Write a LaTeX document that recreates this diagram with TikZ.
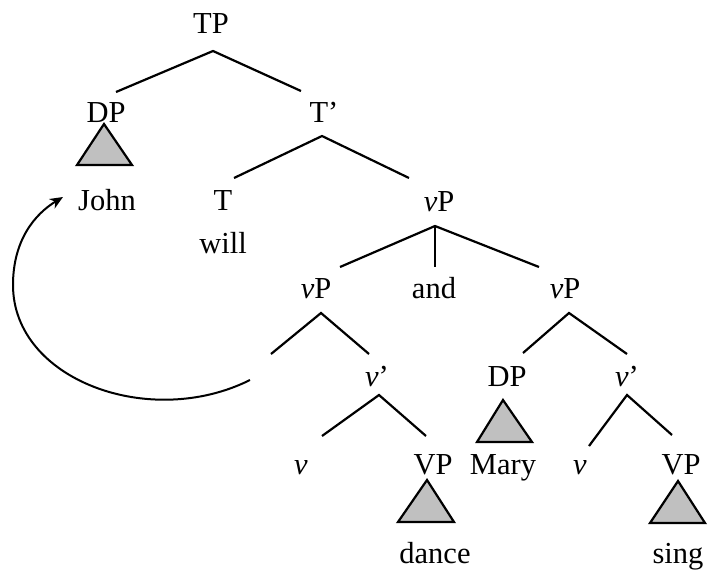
\documentclass[tikz,border=0pt]{standalone}
\usepackage{fontspec}
\setmainfont{Liberation Serif}
\usetikzlibrary{arrows.meta}
\definecolor{trigray}{RGB}{192,192,192}
\tikzset{
  lab/.style={anchor=base, inner sep=0pt, font=\fontsize{30.5}{36}\selectfont},
  branch/.style={line width=2.2pt, line cap=butt},
  roof/.style={line width=2.2pt, fill=trigray, line join=miter},
  move/.style={line width=2pt, -{Stealth[length=13pt,width=11pt,inset=4pt]}}
}
\begin{document}
\begin{tikzpicture}[x=1pt,y=-1pt]
\useasboundingbox (0,0) rectangle (709,570);
% labels
\node[lab] (TP)   at (211,33)  {TP};
\node[lab] (DPa)  at (106,122) {DP};
\node[lab] (Tbar) at (324,122) {T’};
\node[lab] (John) at (107,210) {John};
\node[lab] (T)    at (223,210) {T};
\node[lab] (vP)   at (439,211) {\textit{v}P};
\node[lab] (will) at (223,253) {will};
\node[lab] (vPl)  at (316,298) {\textit{v}P};
\node[lab] (and)  at (434,298) {and};
\node[lab] (vPr)  at (565,298) {\textit{v}P};
\node[lab] (vbl)  at (377,386) {\textit{v}’};
\node[lab] (DPb)  at (507,386) {DP};
\node[lab] (vbr)  at (627,386) {\textit{v}’};
\node[lab] (vl)   at (301,474) {\textit{v}};
\node[lab] (VPl)  at (433,474) {VP};
\node[lab] (Mary) at (503,474) {Mary};
\node[lab] (vr)   at (580,474) {\textit{v}};
\node[lab] (VPr)  at (681,474) {VP};
\node[lab] (dance) at (435,563) {dance};
\node[lab] (sing) at (678,563) {sing};
% branch points
\coordinate (TPb) at (213,51);  \coordinate (DPat) at (116,92);  \coordinate (Tbart) at (301,91);
\coordinate (Tbarb) at (322,136); \coordinate (Tt) at (234,178); \coordinate (vPt) at (409,178);
\coordinate (vPb) at (435,226); \coordinate (vPlt) at (340,267); \coordinate (andt) at (435,267); \coordinate (vPrt) at (539,267);
\coordinate (vPlb) at (321,313); \coordinate (gapt) at (271,354); \coordinate (vblt) at (369,354);
\coordinate (vblb) at (379,395); \coordinate (vlt) at (322,436); \coordinate (VPlt) at (426,436);
\coordinate (vPrb) at (569,313); \coordinate (DPbt) at (523,353); \coordinate (vbrt) at (627,354);
\coordinate (vbrb) at (627,395); \coordinate (vrt) at (589,446); \coordinate (VPrt) at (672,435);
% branches
\draw[branch] (DPat) -- (TPb) -- (Tbart);
\draw[branch] (Tt) -- (Tbarb) -- (vPt);
\draw[branch] (vPlt) -- (vPb) -- (vPrt);
\draw[branch] (vPb) -- (andt);
\draw[branch] (gapt) -- (vPlb) -- (vblt);
\draw[branch] (vlt) -- (vblb) -- (VPlt);
\draw[branch] (DPbt) -- (vPrb) -- (vbrt);
\draw[branch] (vrt) -- (vbrb) -- (VPrt);
% triangles
\draw[roof] (104,124) -- (132,165) -- (77,165) -- cycle;
\draw[roof] (427,480) -- (454,522) -- (398,522) -- cycle;
\draw[roof] (503,400) -- (532,442) -- (477,442) -- cycle;
\draw[roof] (678,481) -- (705,523) -- (650,523) -- cycle;
% movement arrow
\coordinate (trace) at (250,380);
\coordinate (landing) at (63,197);
\draw[move] (trace) .. controls (150,430) and (13,380) .. (13,285)
  .. controls (13,240) and (35,214) .. (landing);
\end{tikzpicture}
\end{document}
